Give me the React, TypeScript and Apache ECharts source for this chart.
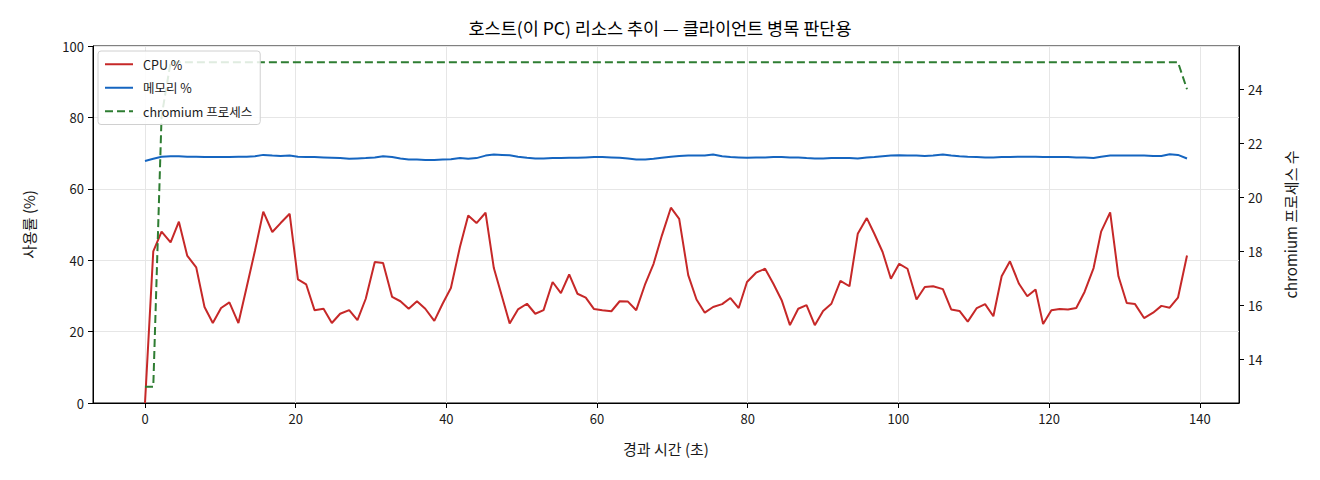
import { useEffect, useRef } from "react";
import * as echarts from "echarts";

// sample times (s)
const times = [
  0.0, 1.1, 2.2, 3.4, 4.5, 5.6, 6.8, 7.9, 9.0, 10.1,
  11.2, 12.4, 13.5, 14.6, 15.7, 16.9, 18.0, 19.2, 20.3, 21.4,
  22.5, 23.7, 24.8, 25.9, 27.1, 28.2, 29.3, 30.5, 31.6, 32.8,
  33.9, 35.0, 36.1, 37.2, 38.4, 39.5, 40.6, 41.8, 42.9, 44.0,
  45.2, 46.3, 47.4, 48.4, 49.5, 50.7, 51.8, 52.9, 54.1, 55.2,
  56.3, 57.4, 58.5, 59.6, 60.7, 61.9, 63.0, 64.1, 65.2, 66.4,
  67.5, 68.6, 69.8, 70.9, 72.1, 73.2, 74.3, 75.4, 76.6, 77.7,
  78.8, 79.9, 81.1, 82.3, 83.4, 84.5, 85.6, 86.7, 87.8, 88.9,
  90.0, 91.1, 92.3, 93.5, 94.6, 95.8, 96.8, 97.9, 99.0, 100.1,
  101.2, 102.4, 103.5, 104.6, 105.9, 107.0, 108.1, 109.2, 110.4, 111.5,
  112.6, 113.7, 114.8, 116.0, 117.1, 118.2, 119.2, 120.3, 121.4, 122.5,
  123.6, 124.7, 125.9, 126.9, 128.1, 129.2, 130.3, 131.4, 132.6, 133.8,
  134.9, 136.0, 137.1, 138.3,
];

const cpuPct = [
  0, 42.5, 48, 45, 50.8, 41.3, 38, 26.9, 22.4, 26.6,
  28.2, 22.4, 32.5, 42.7, 53.6, 47.9, 50.4, 53, 34.6, 33.2,
  26, 26.4, 22.4, 25, 26, 23.2, 29.2, 39.5, 39.2, 29.7,
  28.5, 26.4, 28.5, 26.4, 23, 27.8, 32.2, 43.7, 52.5, 50.4,
  53.3, 37.8, 29.7, 22.3, 26.2, 27.8, 25, 26, 33.9, 30.8,
  36, 30.6, 29.5, 26.3, 26, 25.7, 28.5, 28.4, 26, 33.4,
  39, 46.9, 54.7, 51.6, 35.8, 29, 25.3, 26.9, 27.7, 29.4,
  26.6, 33.9, 36.5, 37.6, 33.4, 28.8, 21.8, 26.4, 27.4, 21.8,
  25.8, 27.8, 34.2, 32.7, 47.4, 51.8, 47.4, 42.3, 34.8, 39,
  37.6, 29, 32.5, 32.7, 31.9, 26.2, 25.8, 22.8, 26.6, 27.7,
  24.3, 35.5, 39.7, 33.4, 29.9, 31.8, 22.1, 26, 26.3, 26.2,
  26.6, 31.1, 37.8, 48, 53.4, 35.5, 28, 27.7, 23.8, 25.3,
  27.2, 26.7, 29.5, 41.3,
];

const memPct = [
  67.8, 68.4, 69.0, 69.1, 69.1, 69.0, 69.0, 68.9, 68.9, 68.9,
  68.9, 69.0, 69.0, 69.1, 69.5, 69.3, 69.2, 69.3, 69.0, 68.9,
  68.9, 68.8, 68.7, 68.6, 68.4, 68.5, 68.6, 68.8, 69.1, 68.9,
  68.5, 68.2, 68.2, 68.1, 68.1, 68.2, 68.3, 68.6, 68.4, 68.6,
  69.3, 69.6, 69.5, 69.4, 69.0, 68.7, 68.5, 68.5, 68.6, 68.6,
  68.7, 68.7, 68.8, 68.9, 68.9, 68.8, 68.7, 68.5, 68.2, 68.2,
  68.4, 68.7, 69.0, 69.2, 69.3, 69.3, 69.3, 69.6, 69.1, 68.9,
  68.8, 68.7, 68.8, 68.8, 68.9, 68.9, 68.8, 68.8, 68.6, 68.5,
  68.5, 68.6, 68.6, 68.6, 68.5, 68.8, 68.9, 69.1, 69.3, 69.4,
  69.3, 69.3, 69.2, 69.3, 69.6, 69.3, 69.1, 69.0, 68.9, 68.8,
  68.8, 68.9, 68.9, 69.0, 69.0, 69.0, 68.9, 68.9, 68.9, 68.9,
  68.8, 68.8, 68.6, 69.0, 69.3, 69.3, 69.3, 69.3, 69.3, 69.2,
  69.2, 69.7, 69.5, 68.5,
];

const chromiumProcs = [
  13, 13, 23, 25, 25, 25, 25, 25, 25, 25,
  25, 25, 25, 25, 25, 25, 25, 25, 25, 25,
  25, 25, 25, 25, 25, 25, 25, 25, 25, 25,
  25, 25, 25, 25, 25, 25, 25, 25, 25, 25,
  25, 25, 25, 25, 25, 25, 25, 25, 25, 25,
  25, 25, 25, 25, 25, 25, 25, 25, 25, 25,
  25, 25, 25, 25, 25, 25, 25, 25, 25, 25,
  25, 25, 25, 25, 25, 25, 25, 25, 25, 25,
  25, 25, 25, 25, 25, 25, 25, 25, 25, 25,
  25, 25, 25, 25, 25, 25, 25, 25, 25, 25,
  25, 25, 25, 25, 25, 25, 25, 25, 25, 25,
  25, 25, 25, 25, 25, 25, 25, 25, 25, 25,
  25, 25, 25, 24,
];

const xTicks = [0, 20, 40, 60, 80, 100, 120, 140];
const rightTicks = [14, 16, 18, 20, 22, 24];

const FONT = '"Noto Sans CJK KR", "Noto Sans", sans-serif';
const INK = "#1a1a1a";
const GRID_LINE = "#e6e6e6";

export default function App() {
  const chartRef = useRef<HTMLDivElement>(null);

  useEffect(() => {
    if (!chartRef.current) return;
    const chart = echarts.init(chartRef.current, undefined, { renderer: "svg" });

    const pairs = (vals: number[]) => times.map((t, i) => [t, vals[i]]);

    const tickText = { color: INK, fontFamily: FONT, fontSize: 13 };
    const nameText = { color: INK, fontFamily: FONT, fontSize: 15 };

    chart.setOption({
      animation: false,
      backgroundColor: "#ffffff",
      textStyle: { fontFamily: FONT },
      title: {
        text: "호스트(이 PC) 리소스 추이 — 클라이언트 병목 판단용",
        left: "center",
        top: 14,
        textStyle: { fontFamily: FONT, fontSize: 17.5, fontWeight: "normal", color: "#000" },
      },
      grid: {
        left: 93,
        right: 81,
        top: 46,
        bottom: 77,
        show: true,
        borderColor: "#000",
        borderWidth: 1,
        backgroundColor: "transparent",
        outerBoundsMode: "none",
      },
      legend: {
        orient: "vertical",
        left: 98,
        top: 51,
        padding: [7, 8, 7, 6],
        itemWidth: 28,
        itemHeight: 12,
        itemGap: 11,
        backgroundColor: "rgba(255,255,255,0.85)",
        borderColor: "#d0d0d0",
        borderWidth: 1,
        borderRadius: 3,
        itemStyle: { opacity: 0, borderWidth: 0 },
        textStyle: { fontFamily: FONT, fontSize: 12.5, color: INK, lineHeight: 12, padding: [0, 0, 0, 5] },
        data: ["CPU %", "메모리 %", "chromium 프로세스"],
      },
      xAxis: {
        type: "value",
        min: -6.9,
        max: 145.2,
        name: "경과 시간 (초)",
        nameLocation: "middle",
        nameGap: 38,
        nameTextStyle: nameText,
        axisLine: { show: true, onZero: false, lineStyle: { color: "#000", width: 1 } },
        axisTick: { show: true, inside: false, length: 5, customValues: xTicks, lineStyle: { color: "#000" } },
        axisLabel: { ...tickText, margin: 9, customValues: xTicks },
        splitLine: { show: true, lineStyle: { color: GRID_LINE, width: 1 } },
      },
      yAxis: [
        {
          type: "value",
          min: 0,
          max: 100,
          interval: 20,
          position: "left",
          name: "사용률 (%)",
          nameLocation: "middle",
          nameGap: 57,
          nameRotate: 90,
          nameTextStyle: nameText,
          axisLine: { show: true, onZero: false, lineStyle: { color: "#000", width: 1 } },
          axisTick: { show: true, inside: false, length: 5, lineStyle: { color: "#000" } },
          axisLabel: { ...tickText, margin: 9 },
          splitLine: { show: true, lineStyle: { color: GRID_LINE, width: 1 } },
        },
        {
          type: "value",
          min: 12.4,
          max: 25.6,
          position: "right",
          name: "chromium 프로세스 수",
          nameLocation: "middle",
          nameGap: 44,
          nameRotate: 90,
          nameTextStyle: nameText,
          axisLine: { show: true, onZero: false, lineStyle: { color: "#000", width: 1 } },
          axisTick: { show: true, inside: false, length: 5, customValues: rightTicks, lineStyle: { color: "#000" } },
          axisLabel: { ...tickText, margin: 9, customValues: rightTicks },
          splitLine: { show: false },
        },
      ],
      series: [
        {
          name: "CPU %",
          type: "line",
          data: pairs(cpuPct),
          yAxisIndex: 0,
          showSymbol: false,
          symbol: "none",
          lineStyle: { color: "#c62828", width: 2 },
          itemStyle: { color: "#c62828" },
        },
        {
          name: "메모리 %",
          type: "line",
          data: pairs(memPct),
          yAxisIndex: 0,
          showSymbol: false,
          symbol: "none",
          lineStyle: { color: "#1565c0", width: 2 },
          itemStyle: { color: "#1565c0" },
        },
        {
          name: "chromium 프로세스",
          type: "line",
          data: pairs(chromiumProcs),
          yAxisIndex: 1,
          showSymbol: false,
          symbol: "none",
          lineStyle: { color: "#2e7d32", width: 2, type: [8, 4] },
          itemStyle: { color: "#2e7d32" },
          z: 3,
        },
      ],
    });

    return () => {
      chart.dispose();
    };
  }, []);

  return (
    <div
      ref={chartRef}
      style={{ position: "fixed", left: 0, top: 0, width: 1320, height: 480, background: "#fff" }}
    />
  );
}
